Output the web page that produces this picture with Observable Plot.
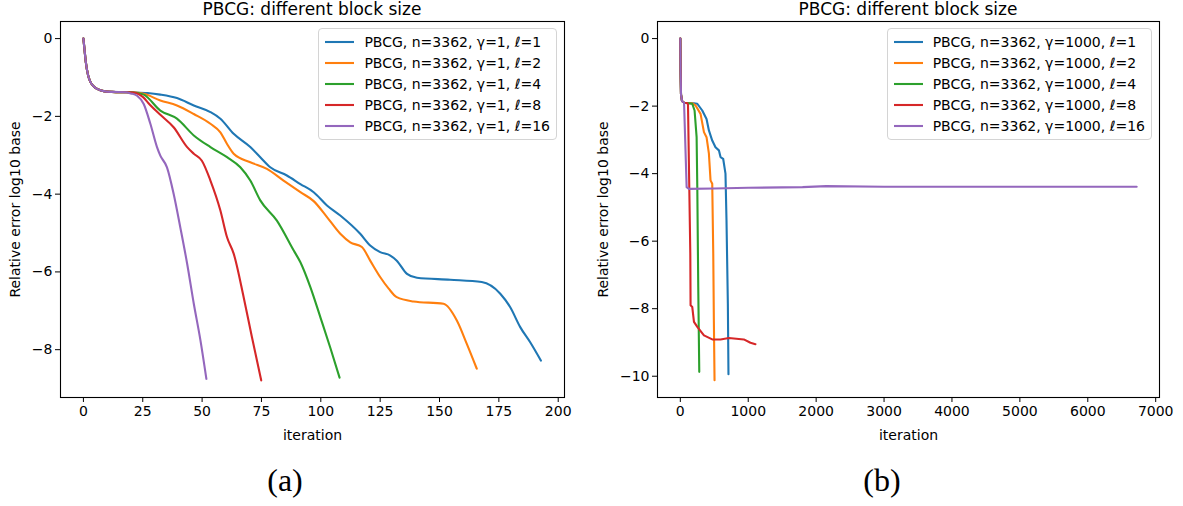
<!DOCTYPE html>
<html><head><meta charset="utf-8">
<script src="https://cdn.jsdelivr.net/npm/d3@7"></script>
<script src="https://cdn.jsdelivr.net/npm/@observablehq/plot@0.6"></script>
<style>
body{margin:0;background:#fff;}
#fig{position:relative;width:1183px;height:506px;overflow:hidden;font-family:"DejaVu Sans",sans-serif;color:#000;}
.panel{position:absolute;top:0;}
.title{position:absolute;top:1px;font-size:17px;line-height:1;white-space:nowrap;transform:translateX(-50%);}
.legend{position:absolute;top:28px;border:1px solid #d4d4d4;border-radius:4px;background:rgba(255,255,255,0.8);padding:3px 6px 3px 6px;font-size:14px;}
.row{display:flex;align-items:center;height:20.8px;white-space:nowrap;}
.row svg{margin-right:10px;}
.cap{position:absolute;top:464px;font-family:"Liberation Serif",serif;font-size:32px;line-height:1;transform:translateX(-50%);}
</style></head>
<body><div id="fig"></div>
<script>
const colors = ["#1f77b4", "#ff7f0e", "#2ca02c", "#d62728", "#9467bd"];
const labelsA = ["PBCG, n=3362, γ=1, ℓ=1","PBCG, n=3362, γ=1, ℓ=2","PBCG, n=3362, γ=1, ℓ=4","PBCG, n=3362, γ=1, ℓ=8","PBCG, n=3362, γ=1, ℓ=16"];
const labelsB = ["PBCG, n=3362, γ=1000, ℓ=1","PBCG, n=3362, γ=1000, ℓ=2","PBCG, n=3362, γ=1000, ℓ=4","PBCG, n=3362, γ=1000, ℓ=8","PBCG, n=3362, γ=1000, ℓ=16"];
const title = "PBCG: different block size";
const xTicksA = [0,25,50,75,100,125,150,175,200];
const yTicksA = [0,-2,-4,-6,-8];
const xTicksB = [0,1000,2000,3000,4000,5000,6000,7000];
const yTicksB = [0,-2,-4,-6,-8,-10];

// (a) shared start
const startIterA = [0,0.5,1,2,3,4.5,6,8.5,12,18];
const startErrA  = [0,-0.3,-0.6,-0.95,-1.12,-1.24,-1.3,-1.35,-1.37,-1.38];
const iterA1 = [22,27,32.4,39.4,46.5,53.5,57.7,63.3,70.3,74.5,78.7,85.7,91.4,97,102.6,108.2,116.6,120.8,125,129.3,132,136.3,140.5,154.5,167.8,175.6,179.8,184,188.2,192.7];
const errA1  = [-1.385,-1.40,-1.44,-1.53,-1.72,-1.89,-2.06,-2.45,-2.79,-3.05,-3.31,-3.52,-3.74,-3.95,-4.29,-4.55,-5.02,-5.32,-5.49,-5.58,-5.71,-6.05,-6.15,-6.2,-6.26,-6.56,-6.91,-7.42,-7.81,-8.28];
const iterA2 = [22,25.4,32.4,39.4,46.5,53.5,57.7,60.5,63.3,70.3,77.3,84.3,91.4,97,102.6,108.2,112.4,117.3,120.8,125,128.6,132,139,151.7,157.3,161.5,165.7];
const errA2  = [-1.39,-1.42,-1.59,-1.72,-1.94,-2.19,-2.41,-2.71,-2.96,-3.18,-3.35,-3.65,-3.95,-4.18,-4.59,-5.02,-5.24,-5.36,-5.71,-6.13,-6.43,-6.65,-6.76,-6.82,-7.25,-7.85,-8.49];
const iterA4 = [21,25.4,32.4,39.4,46.5,53.5,60.5,66.1,70.3,74.5,81.5,88.6,91.4,95.6,100,104,107.9];
const errA4  = [-1.385,-1.44,-1.85,-2.06,-2.49,-2.79,-3.05,-3.31,-3.65,-4.16,-4.68,-5.45,-5.75,-6.39,-7.2,-7.95,-8.72];
const iterA8 = [21,25,28,32.4,38,43.7,46.5,49.9,53.5,57.7,60.5,63.3,67.5,71,74.9];
const errA8  = [-1.385,-1.5,-1.7,-1.96,-2.28,-2.79,-2.96,-3.14,-3.65,-4.42,-5.11,-5.53,-6.65,-7.68,-8.79];
const iterA16 = [20,22.6,25.4,28.2,31,32.4,35.2,38,40.8,43.7,46.5,49.3,51.8];
const errA16  = [-1.41,-1.47,-1.68,-2.19,-2.79,-3.01,-3.31,-3.99,-4.85,-5.79,-6.82,-7.76,-8.75];

// (b) shared start
const startIterB = [0,4,10,25,55];
const startErrB  = [0,-1.0,-1.65,-1.85,-1.9];
const iterB1 = [100,200,250,323,386,421,470,518,568,592,631,665,680,700,709];
const errB1  = [-1.91,-1.92,-1.93,-2.13,-2.38,-2.72,-3.02,-3.22,-3.31,-3.51,-3.56,-4.0,-5.38,-7.85,-9.94];
const iterB2 = [100,180,225,298,348,386,421,445,470,485,494,504];
const errB2  = [-1.91,-1.92,-1.98,-2.23,-2.77,-2.92,-3.41,-4.2,-4.3,-6.37,-8.34,-10.12];
const iterB4 = [100,176,210,240,250,264,279];
const errB4  = [-1.91,-1.93,-2.13,-2.92,-4.4,-7.36,-9.87];
const iterB8 = [100,113,132,147,151,176,201,250,348,470,592,715,935,1033,1106];
const errB8  = [-1.91,-1.95,-4.4,-6.37,-7.9,-7.95,-8.39,-8.54,-8.79,-8.91,-8.91,-8.87,-8.91,-9.01,-9.05];
const iterB16 = [93,127,500,1000,1800,2150,3000,6720];
const errB16  = [-4.4,-4.45,-4.44,-4.42,-4.40,-4.37,-4.39,-4.39];

function buildRows(labels, startIter, startErr, iters, errs) {
  const rows = [];
  labels.forEach((lab, k) => {
    const xs = startIter.concat(iters[k]);
    const ys = startErr.concat(errs[k]);
    xs.forEach((x, i) => rows.push({series: lab, iter: x, err: ys[i]}));
  });
  return rows;
}
const rowsA = buildRows(labelsA, startIterA, startErrA, [iterA1,iterA2,iterA4,iterA8,iterA16], [errA1,errA2,errA4,errA8,errA16]);
const rowsB = buildRows(labelsB, startIterB, startErrB, [iterB1,iterB2,iterB4,iterB8,iterB16], [errB1,errB2,errB4,errB8,errB16]);

const fmt = d3.format("d");
function panel(o) {
  return Plot.plot({
    width: o.width, height: 450, marginTop: 21, marginBottom: 53, marginLeft: o.ml, marginRight: o.mr,
    style: {fontFamily: "DejaVu Sans", fontSize: "14px", background: "white", color: "black", overflow: "visible"},
    x: {domain: o.xDomain},
    y: {domain: o.yDomain},
    color: {type: "ordinal", domain: o.labels, range: colors},
    marks: [
      Plot.line(o.rows, {x: "iter", y: "err", stroke: "series", z: "series", strokeWidth: 2.1, curve: o.curve}),
      Plot.frame({stroke: "black", strokeWidth: 1.1}),
      Plot.axisX(o.xTicks, {tickSize: 5, tickPadding: 4, tickFormat: fmt, label: "iteration", labelAnchor: "center", labelOffset: 42, labelArrow: "none"}),
      Plot.axisY(o.yTicks, {tickSize: 5, tickPadding: 3, tickFormat: fmt, label: "Relative error log10 base", labelAnchor: "center", labelOffset: o.ylo, labelArrow: "none"})
    ]
  });
}

const fig = document.getElementById("fig");
function place(node, left) { const d = document.createElement("div"); d.className = "panel"; d.style.left = left + "px"; d.appendChild(node); fig.appendChild(d); }
place(panel({width: 591, ml: 60, mr: 27, xDomain: [-9.65, 202.65], yDomain: [-9.23, 0.44], xTicks: xTicksA, yTicks: yTicksA, labels: labelsA, rows: rowsA, curve: "monotone-x", ylo: 50}), 0);
place(panel({width: 592, ml: 66, mr: 24, xDomain: [-336, 7056], yDomain: [-10.63, 0.506], xTicks: xTicksB, yTicks: yTicksB, labels: labelsB, rows: rowsB, curve: "linear", ylo: 59}), 591);

function addTitle(cx) { const t = document.createElement("div"); t.className = "title"; t.style.left = cx + "px"; t.textContent = title; fig.appendChild(t); }
addTitle(312); addTitle(908);

function addLegend(labels, right) {
  const lg = document.createElement("div"); lg.className = "legend"; lg.style.right = right + "px";
  labels.forEach((lab, i) => {
    const r = document.createElement("div"); r.className = "row";
    r.innerHTML = `<svg width="29" height="6"><line x1="0" x2="29" y1="3" y2="3" stroke="${colors[i]}" stroke-width="2.1"/></svg><span>${lab}</span>`;
    lg.appendChild(r);
  });
  fig.appendChild(lg);
}
addLegend(labelsA, 1183 - 557);
addLegend(labelsB, 1183 - 1152);

function addCap(txt, cx) { const c = document.createElement("div"); c.className = "cap"; c.style.left = cx + "px"; c.textContent = txt; fig.appendChild(c); }
addCap("(a)", 285); addCap("(b)", 882);
</script></body></html>
